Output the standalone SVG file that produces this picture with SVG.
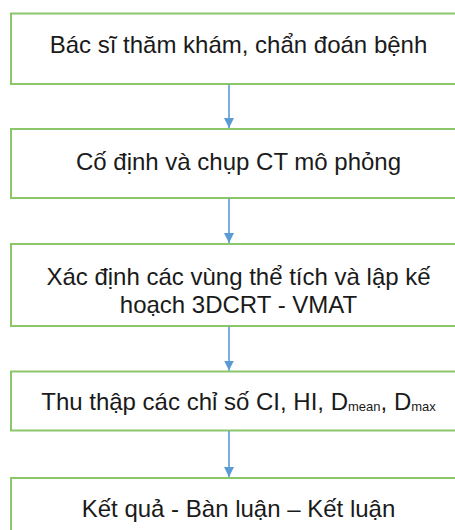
<svg xmlns="http://www.w3.org/2000/svg" width="455" height="530" viewBox="0 0 455 530">
<style>
.box{fill:#ffffff;stroke:#8cc66b;stroke-width:2}
.t{font-family:"Liberation Sans",Arial,sans-serif;font-size:24px;fill:#1a1a1a;text-anchor:middle}
.c{stroke:#5b9bd5;stroke-width:1.6;fill:none}
</style>
<defs>
<marker id="ah" markerWidth="10" markerHeight="10" refX="8" refY="4" orient="auto" markerUnits="userSpaceOnUse" viewBox="0 0 8 8">
<path d="M0,0 L8,4 L0,8 Z" fill="#5b9bd5"/>
</marker>
</defs>
<rect width="455" height="530" fill="#ffffff"/>
<g id="n1"><rect class="box" x="11" y="13.5" width="455" height="70.5"/><text class="t" x="238.5" y="53">Bác sĩ thăm khám, chẩn đoán bệnh</text></g>
<g id="n2"><rect class="box" x="11" y="129" width="455" height="69"/><text class="t" x="238.5" y="170">Cố định và chụp CT mô phỏng</text></g>
<g id="n3"><rect class="box" x="11" y="244" width="455" height="82"/><text class="t" x="238.5" y="285">Xác định các vùng thể tích và lập kế</text><text class="t" x="238.5" y="313">hoạch 3DCRT - VMAT</text></g>
<g id="n4"><rect class="box" x="11" y="371.5" width="455" height="59"/><text class="t" x="238.5" y="410">Thu thập các chỉ số CI, HI, D<tspan font-size="13" dy="1">mean</tspan><tspan dy="-1">, D</tspan><tspan font-size="13" dy="1">max</tspan></text></g>
<g id="n5"><rect class="box" x="11" y="478" width="455" height="70"/><text class="t" x="238.5" y="517">Kết quả - Bàn luận – Kết luận</text></g>
<g id="connectors">
<line class="c" x1="229" y1="84.5" x2="229" y2="128" marker-end="url(#ah)"/>
<line class="c" x1="229" y1="198.5" x2="229" y2="243" marker-end="url(#ah)"/>
<line class="c" x1="229" y1="326.5" x2="229" y2="370.5" marker-end="url(#ah)"/>
<line class="c" x1="229" y1="431" x2="229" y2="477" marker-end="url(#ah)"/>
</g>
</svg>
